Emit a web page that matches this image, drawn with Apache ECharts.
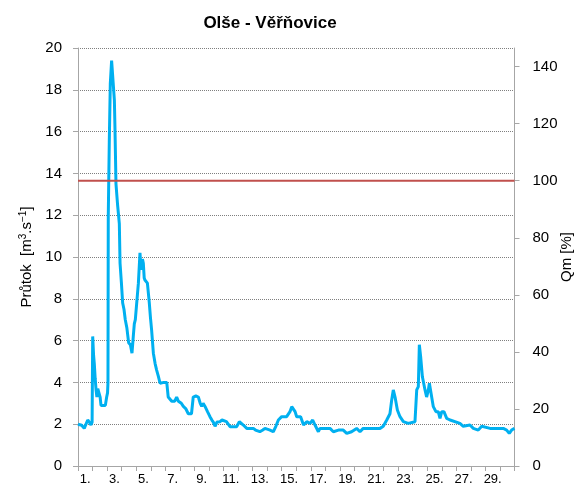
<!DOCTYPE html>
<html><head><meta charset="utf-8">
<script src="https://cdn.jsdelivr.net/npm/echarts@6/dist/echarts.min.js"></script>
<style>html,body{margin:0;padding:0;background:#fff}#c{width:584px;height:497px}</style>
</head><body><div id="c"></div>
<script>
var title = 'Olše - Věřňovice';
var dayLabels = ['1.','2.','3.','4.','5.','6.','7.','8.','9.','10.','11.','12.','13.','14.','15.','16.','17.','18.','19.','20.','21.','22.','23.','24.','25.','26.','27.','28.','29.','30.'];
var leftTicks = [0,2,4,6,8,10,12,14,16,18,20];
var rightTicks = [0,20,40,60,80,100,120,140];
var Qm = 13.65;
var times = [0.0,0.1,0.25,0.43,0.55,0.67,0.78,0.89,0.97,1.01,1.07,1.12,1.18,1.24,1.3,1.36,1.45,1.52,1.58,1.7,1.88,1.97,2.03,2.06,2.08,2.15,2.22,2.31,2.43,2.5,2.54,2.61,2.72,2.84,2.89,2.98,3.07,3.16,3.25,3.36,3.48,3.6,3.71,3.8,3.87,3.94,4.03,4.15,4.26,4.32,4.38,4.43,4.49,4.55,4.6,4.77,4.9,4.98,5.06,5.18,5.3,5.4,5.52,5.64,5.9,6.1,6.2,6.3,6.44,6.65,6.78,6.9,7.1,7.24,7.4,7.58,7.8,7.92,8.1,8.27,8.4,8.5,8.6,8.73,8.9,9.07,9.2,9.3,9.42,9.55,9.64,9.76,9.9,10.2,10.45,10.9,11.09,11.2,11.36,11.6,12.05,12.2,12.5,12.7,12.85,13.2,13.42,13.6,13.77,14.0,14.34,14.57,14.69,14.8,14.92,15.03,15.3,15.5,15.72,15.95,16.13,16.29,16.52,16.63,17.32,17.55,17.9,18.23,18.47,18.8,19.15,19.38,19.6,20.07,20.76,20.98,21.22,21.44,21.56,21.67,21.79,21.95,22.13,22.36,22.7,23.16,23.28,23.39,23.46,23.55,23.67,23.85,23.96,24.08,24.15,24.26,24.42,24.6,24.76,24.88,25.0,25.15,25.34,25.57,26.25,26.48,26.94,27.17,27.51,27.75,28.32,29.23,29.46,29.64,29.8,30.0];
var flows = [2.0,1.96,1.95,1.8,2.0,2.2,2.1,1.96,2.1,6.2,5.3,4.9,4.2,3.65,3.3,3.7,3.65,3.3,2.9,2.85,2.9,3.3,3.5,4.0,11.9,15.5,18.3,19.4,19.4,17.5,16.2,13.5,12.5,11.6,9.7,8.8,7.8,7.5,7.0,6.6,5.9,5.8,5.4,6.2,6.8,7.0,7.0,8.75,10.2,9.5,9.4,9.9,9.7,9.0,8.9,8.75,7.8,7.1,6.5,5.4,4.9,4.6,4.3,3.96,4.0,4.0,3.3,3.3,3.1,3.1,3.3,3.1,3.0,2.85,2.75,2.5,2.5,3.3,3.35,3.3,3.0,2.85,3.0,2.85,2.6,2.36,2.2,2.1,1.9,2.1,2.1,2.12,2.2,2.12,1.88,1.88,2.12,2.05,1.96,1.8,1.8,1.72,1.64,1.72,1.8,1.72,1.64,1.9,2.2,2.36,2.36,2.6,2.84,2.84,2.6,2.36,2.36,1.96,2.12,2.04,2.2,1.96,1.64,1.8,1.8,1.64,1.72,1.72,1.56,1.64,1.8,1.64,1.8,1.8,1.8,1.9,2.2,2.5,3.16,3.64,3.3,2.68,2.36,2.12,2.04,2.12,3.64,3.8,5.8,5.23,4.27,3.64,3.3,3.64,3.96,3.96,2.84,2.6,2.6,2.28,2.6,2.6,2.28,2.2,2.04,1.9,1.96,1.8,1.72,1.9,1.8,1.8,1.72,1.56,1.72,1.8];

var data = times.map(function(t,i){return [t, flows[i]];});
var rightMax = 20 * 100 / Qm;
var FONT = 'Liberation Sans';

var chart = echarts.init(document.getElementById('c'), null, {renderer:'canvas'});
chart.setOption({
  animation: false,
  backgroundColor: '#fff',
  title: {
    text: title, left: 265, top: 10, textAlign: 'center',
    textStyle: {fontFamily: FONT, fontSize: 17, fontWeight: 'bold', color: '#000'}
  },
  grid: {left: 78, right: 69.5, top: 48, bottom: 31, containLabel: false, outerBoundsMode: 'none'},
  xAxis: [{
    type: 'category', data: dayLabels, boundaryGap: true, gridIndex: 0,
    axisLine: {lineStyle: {color: '#a6a6a6', width: 1}},
    axisTick: {show: true, interval: 0, length: 5, lineStyle: {color: '#a6a6a6'}},
    axisLabel: {interval: 1, margin: 7, fontFamily: FONT, fontSize: 13, color: '#000'},
    splitLine: {show: false}
  }, {
    type: 'value', min: 0, max: 30, show: false, gridIndex: 0
  }],
  yAxis: [{
    type: 'value', min: 0, max: 20, interval: 2, position: 'left',
    name: '{n|Průtok  [m}{s|3}{n|.s}{s|−1}{n|]}', nameLocation: 'middle', nameGap: 43, nameRotate: 90,
    nameMoveOverlap: false,
    nameTextStyle: {rich: {
      n: {fontFamily: FONT, fontSize: 15, color: '#000'},
      s: {fontFamily: FONT, fontSize: 10, color: '#000', verticalAlign: 'top', padding: [0,0,7,0]}
    }},
    axisLine: {show: true, lineStyle: {color: '#a6a6a6'}},
    axisTick: {show: true, length: 5, lineStyle: {color: '#a6a6a6'}},
    axisLabel: {margin: 16, fontFamily: FONT, fontSize: 15, color: '#000'},
    splitLine: {show: true, lineStyle: {color: '#7f7f7f', type: 'dotted', width: 1}}
  }, {
    type: 'value', min: 0, max: rightMax, position: 'right',
    name: 'Qm [%]', nameLocation: 'middle', nameGap: 45, nameRotate: 90,
    nameMoveOverlap: false,
    nameTextStyle: {fontFamily: FONT, fontSize: 15, color: '#000'},
    axisLine: {show: true, lineStyle: {color: '#a6a6a6'}},
    axisTick: {show: true, length: 5, customValues: rightTicks, lineStyle: {color: '#a6a6a6'}},
    axisLabel: {margin: 18, customValues: rightTicks, fontFamily: FONT, fontSize: 15, color: '#000'},
    splitLine: {show: false}
  }],
  series: [{
    type: 'line', xAxisIndex: 1, yAxisIndex: 0, data: data,
    showSymbol: false, symbol: 'none',
    lineStyle: {color: '#00b0f0', width: 3},
    z: 3
  }, {
    type: 'line', xAxisIndex: 1, yAxisIndex: 1, data: [[0,100],[30,100]],
    showSymbol: false, symbol: 'none',
    lineStyle: {color: '#c0504d', width: 2},
    z: 4
  }]
});
</script>
</body></html>
